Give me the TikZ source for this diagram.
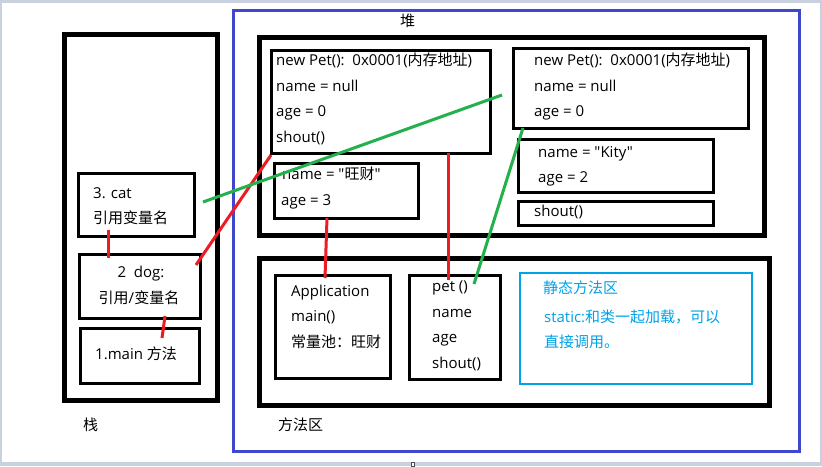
\documentclass[tikz,border=0pt]{standalone}
\usepackage{fontspec}
\newfontfamily\lat{Open Sans}
\newfontfamily\cjk{Noto Sans CJK SC}
\usetikzlibrary{fit}
\definecolor{pred}{HTML}{ED1C24}
\definecolor{pgreen}{HTML}{22B14C}
\definecolor{pblue}{HTML}{3F48CC}
\definecolor{pcyan}{HTML}{00A2E8}
\definecolor{bgc}{HTML}{C9D1DE}
\begin{document}
\begin{tikzpicture}[x=1pt,y=-1pt,
  box/.style={draw=black, line width=3pt, rectangle, inner sep=0pt, outer sep=0pt},
  bigbox/.style={box, line width=5pt},
  txt/.style={anchor=base west, inner sep=0pt, font=\lat\fontsize{15}{18}\selectfont},
  ctxt/.style={txt, anchor=base},
  redline/.style={draw=pred, line width=3pt},
  greenline/.style={draw=pgreen, line width=3pt}]
\useasboundingbox (0,0) rectangle (822,466);
\fill[bgc] (0,0) rectangle (822,466);
\fill[white] (2,3) rectangle (820,462);
\draw[fill=white, draw=black!70, line width=0.8pt] (411,462.5) rectangle (414,466);

% stack
\node[bigbox, fit={(64,34.5)(217,400)}] (stack) {};
\node[box, fit={(78,173)(194,236)}] (cat) {};
\node[box, fit={(79,254)(200,318)}] (dog) {};
\node[box, fit={(80,328)(199,383)}] (mainbox) {};
\node[txt] (cat1) at (93,198) {3. cat};
\node[txt] (cat2) at (93,223) {\cjk 引用变量名};
\node[ctxt] (dog1) at (141,277) {2\ \ dog:};
\node[ctxt] (dog2) at (139,303) {{\cjk 引用}/{\cjk 变量名}};
\node[txt] (main1) at (95,359) {1.main {\cjk 方法}};
\node[txt] (stacklbl) at (83,430) {\cjk 栈};

% heap
\node[draw=pblue, line width=3pt, inner sep=0pt, fit={(233,10)(799,451)}] (heap) {};
\node[txt] (heaplbl) at (400,26) {\cjk 堆};
\node[bigbox, fit={(259,37)(764,235)}] (heapin) {};
\node[box, fit={(271,50.5)(490,153)}] (obj1) {};
\node[txt] (o1a) at (276,65) {new Pet():\ \ 0x0001({\cjk 内存地址})};
\node[txt] (o1b) at (276,91) {name = null};
\node[txt] (o1c) at (276,116) {age = 0};
\node[txt] (o1d) at (276,142) {shout()};
\node[box, fit={(274,163)(418,218)}] (cai) {};
\node[txt] (caia) at (282,179) {name = "{\cjk 旺财}"};
\node[txt] (caib) at (281,205) {age = 3};
\node[box, fit={(513,48)(748,128)}] (obj2) {};
\node[txt] (o2a) at (534,65) {new Pet():\ \ 0x0001({\cjk 内存地址})};
\node[txt] (o2b) at (534,91) {name = null};
\node[txt] (o2c) at (534,116) {age = 0};
\node[box, fit={(518,139)(713,192)}] (kity) {};
\node[txt] (ka) at (538,157) {name = "Kity"};
\node[txt] (kb) at (538,182) {age = 2};
\node[box, fit={(518,201)(713,225)}] (shoutb) {};
\node[txt] (sa) at (534,216) {shout()};

% method area
\node[bigbox, fit={(259,258)(769,405)}] (method) {};
\node[txt] (methodlbl) at (278,430) {\cjk 方法区};
\node[box, fit={(275,275)(390,378)}] (app) {};
\node[txt] (apa) at (291,296) {Application};
\node[txt] (apb) at (291,321) {main()};
\node[txt] (apc) at (291,347) {\cjk 常量池：旺财};
\node[box, fit={(409,275)(500,379)}] (pet) {};
\node[txt] (pa) at (432,291) {pet ()};
\node[txt] (pb) at (432,317) {name};
\node[txt] (pc) at (432,342) {age};
\node[txt] (pd) at (432,368) {shout()};
\node[draw=pcyan, line width=2.5pt, inner sep=0pt, fit={(520,273)(752,384)}] (static) {};
\node[txt, text=pcyan] (sta) at (543,293) {\cjk 静态方法区};
\node[txt, text=pcyan] (stb) at (544,322) {static:{\cjk 和类一起加载，可以}};
\node[txt, text=pcyan] (stc) at (544,347) {\cjk 直接调用。};

% connector end points
\coordinate (catS) at (108,230);
\coordinate (dogN) at (108,258);
\coordinate (dogE) at (196,265);
\coordinate (obj1SW) at (271,155);
\coordinate (dogS) at (165,316);
\coordinate (mainN) at (162,338);
\coordinate (caiS) at (327,218);
\coordinate (appN) at (325,278);
\coordinate (obj1S) at (448,153);
\coordinate (petN) at (448,280);
\coordinate (catE) at (203,202);
\coordinate (obj2W) at (502,95);
\coordinate (obj2SW) at (523,128);
\coordinate (petNE) at (474,284);

\draw[redline] (catS) -- (dogN);
\draw[redline] (dogE) -- (obj1SW);
\draw[redline] (dogS) -- (mainN);
\draw[redline] (caiS) -- (appN);
\draw[redline] (obj1S) -- (petN);
\draw[greenline] (catE) -- (obj2W);
\draw[greenline] (obj2SW) -- (petNE);
\end{tikzpicture}
\end{document}
